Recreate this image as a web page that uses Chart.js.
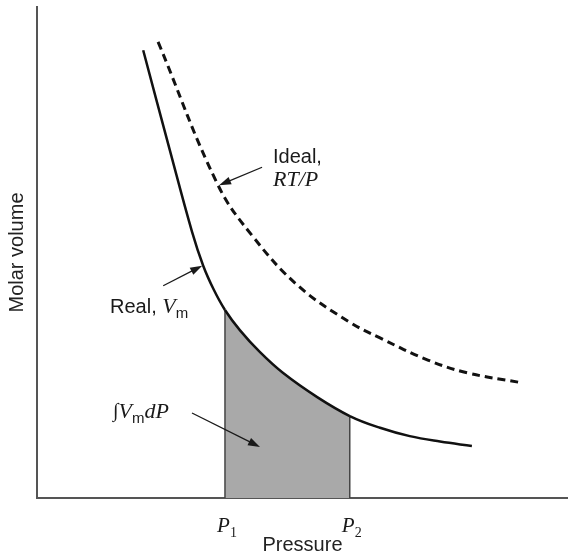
<!DOCTYPE html>
<html>
<head>
<meta charset="utf-8">
<script src="https://cdn.jsdelivr.net/npm/chart.js@4.4.0/dist/chart.umd.min.js"></script>
<style>
  html, body { margin: 0; padding: 0; background: #fff; }
  canvas { display: block; }
</style>
</head>
<body>
<canvas id="grafico" width="568" height="557"></canvas>
<script>
// pressure / molar volume (arbitrary units, axis 0..10)
const REAL_P = [2.00, 2.50, 2.92, 3.13, 3.33, 3.54, 3.82, 4.20, 4.63, 5.27, 5.89, 6.46, 7.02, 7.59, 8.19];
const REAL_V = [9.12, 7.09, 5.42, 4.73, 4.24, 3.83, 3.42, 2.97, 2.55, 2.06, 1.67, 1.43, 1.26, 1.15, 1.06];
const IDEAL_P = [2.28, 3.41, 4.07, 4.92, 5.89, 6.46, 7.36, 8.10, 9.06];
const IDEAL_V = [9.29, 6.37, 5.32, 4.32, 3.58, 3.26, 2.81, 2.55, 2.36];
const P1 = 3.54;
const P2 = 5.89;
const TICK_LABELS = [['P', '1'], ['P', '2']];

const SANS = '"Liberation Sans", Arial, sans-serif';
const SERIF = '"Liberation Serif", "DejaVu Serif", serif';
const INK = '#1a1a1a';
const SHADE = '#a9a9a9';

const pts = (xs, ys) => xs.map((x, i) => ({ x: x, y: ys[i] }));
const vAt = p => REAL_V[REAL_P.indexOf(p)];
const inBand = c => c.p0.parsed.x >= P1 && c.p1.parsed.x <= P2;

function arrow(ctx, x0, y0, x1, y1) {
  const a = Math.atan2(y1 - y0, x1 - x0);
  const c = Math.cos(a), s = Math.sin(a);
  ctx.beginPath();
  ctx.moveTo(x0, y0);
  ctx.lineTo(x1 - 8 * c, y1 - 8 * s);
  ctx.stroke();
  ctx.beginPath();
  ctx.moveTo(x1, y1);
  ctx.lineTo(x1 - 12 * c + 4 * s, y1 - 12 * s - 4 * c);
  ctx.lineTo(x1 - 12 * c - 4 * s, y1 - 12 * s + 4 * c);
  ctx.closePath();
  ctx.fill();
}

// draws pieces of text one after another: [text, font, dy]
function run(ctx, x, y, parts) {
  for (const [t, f, dy] of parts) {
    ctx.font = f;
    ctx.fillText(t, x, y + (dy || 0));
    x += ctx.measureText(t).width;
  }
  return x;
}

const notes = {
  id: 'notes',
  afterDraw(chart) {
    const ctx = chart.ctx;
    const xs = chart.scales.x, ys = chart.scales.y;
    ctx.save();
    ctx.fillStyle = INK;
    ctx.strokeStyle = INK;
    ctx.lineWidth = 1.3;
    ctx.textBaseline = 'alphabetic';

    // tick labels P1, P2
    [P1, P2].forEach((p, i) => {
      const px = xs.getPixelForValue(p);
      ctx.font = 'italic 21px ' + SERIF;
      const w1 = ctx.measureText(TICK_LABELS[i][0]).width;
      ctx.font = '14px ' + SERIF;
      const w2 = ctx.measureText(TICK_LABELS[i][1]).width;
      run(ctx, px + 2 - (w1 + w2) / 2, 532, [
        [TICK_LABELS[i][0], 'italic 21px ' + SERIF, 0],
        [TICK_LABELS[i][1], '14px ' + SERIF, 5]
      ]);
    });

    // Ideal, RT/P
    const ix = xs.getPixelForValue(IDEAL_P[1]), iy = ys.getPixelForValue(IDEAL_V[1]);
    arrow(ctx, ix + 44, iy - 18, ix + 1, iy);
    run(ctx, 273, 163, [['Ideal,', '20px ' + SANS, 0]]);
    run(ctx, 273, 186, [['RT/P', 'italic 22px ' + SERIF, 0]]);

    // Real, Vm
    const rx = xs.getPixelForValue(REAL_P[3]), ry = ys.getPixelForValue(REAL_V[3]);
    arrow(ctx, rx - 40, ry + 20, rx - 1, ry);
    run(ctx, 110, 313, [
      ['Real, ', '20px ' + SANS, 0],
      ['V', 'italic 22px ' + SERIF, 0],
      ['m', '15px ' + SANS, 5]
    ]);

    // integral label
    run(ctx, 113, 418, [
      ['\u222B', 'italic 20px ' + SERIF, -1],
      ['V', 'italic 22px ' + SERIF, 0],
      ['m', '15px ' + SANS, 5],
      ['dP', 'italic 22px ' + SERIF, 0]
    ]);
    arrow(ctx, 192, 413, 260, 447);
    ctx.restore();
  }
};

new Chart(document.getElementById('grafico'), {
  type: 'line',
  data: {
    datasets: [
      {
        label: 'Real',
        data: pts(REAL_P, REAL_V),
        borderColor: '#111',
        borderWidth: 2.5,
        pointRadius: 0,
        tension: 0.4,
        fill: 'origin',
        backgroundColor: 'rgba(0,0,0,0)',
        segment: {
          backgroundColor: c => inBand(c) ? SHADE : 'rgba(0,0,0,0)'
        }
      },
      {
        label: 'Ideal',
        data: pts(IDEAL_P, IDEAL_V),
        borderColor: '#111',
        borderWidth: 3,
        borderDash: [8, 5],
        pointRadius: 0,
        tension: 0.4,
        fill: false
      },
      {
        label: 'P1',
        data: [{ x: P1, y: 0 }, { x: P1, y: vAt(P1) }],
        borderColor: '#444',
        borderWidth: 1.5,
        pointRadius: 0,
        fill: false
      },
      {
        label: 'P2',
        data: [{ x: P2, y: 0 }, { x: P2, y: vAt(P2) }],
        borderColor: '#444',
        borderWidth: 1.5,
        pointRadius: 0,
        fill: false
      }
    ]
  },
  options: {
    responsive: false,
    animation: false,
    devicePixelRatio: 1,
    layout: { padding: { top: 7, right: 0, bottom: 0, left: 0 } },
    plugins: {
      legend: { display: false },
      tooltip: { enabled: false },
      filler: { drawTime: 'beforeDatasetsDraw' }
    },
    scales: {
      x: {
        type: 'linear',
        min: 0,
        max: 10,
        grid: { display: false },
        border: { display: true, color: '#555', width: 2 },
        ticks: { display: false },
        title: {
          display: true,
          text: 'Pressure',
          color: '#222',
          font: { family: SANS, size: 20 },
          padding: { top: 0, bottom: 0 }
        },
        afterFit(s) { s.height = 59; }
      },
      y: {
        type: 'linear',
        min: 0,
        max: 10,
        grid: { display: false },
        border: { display: true, color: '#555', width: 2 },
        ticks: { display: false },
        title: {
          display: true,
          text: 'Molar volume',
          color: '#222',
          font: { family: SANS, size: 20 },
          padding: { top: 5, bottom: 0 }
        },
        afterFit(s) { s.width = 37; }
      }
    }
  },
  plugins: [notes]
});
</script>
</body>
</html>
